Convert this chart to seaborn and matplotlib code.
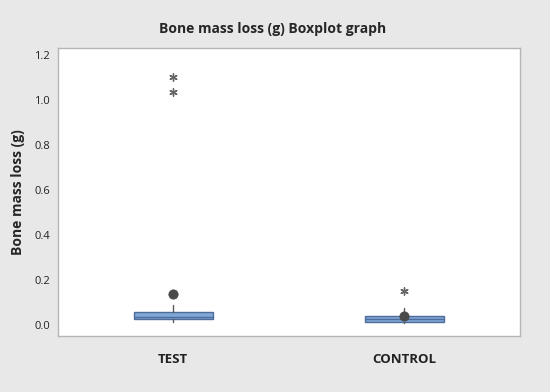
import numpy as np
import pandas as pd
from matplotlib import pyplot as plt
import seaborn as sns

# summary values
groups = ['TEST', 'CONTROL']
q1 = [0.027, 0.014]
median = [0.035, 0.025]
q3 = [0.058, 0.040]
whisk_lo = [0.013, 0.010]
whisk_hi = [0.089, 0.075]
means = [0.138, 0.040]
outlier_group = ['TEST', 'TEST', 'CONTROL']
outlier_value = [1.036, 1.10, 0.15]

sns.set_style('white')
plt.rcParams['font.family'] = ['Open Sans', 'DejaVu Sans']

fig = plt.figure(figsize=(5.5, 3.92), dpi=100, facecolor='#e8e8e8')
ax = fig.add_axes([0.105, 0.143, 0.84, 0.735])
ax.set_facecolor('white')

stats = []
for i, g in enumerate(groups):
    stats.append(dict(label=g, q1=q1[i], med=median[i], q3=q3[i],
                      whislo=whisk_lo[i], whishi=whisk_hi[i], fliers=[]))

edge = '#4d6c99'
ax.bxp(stats, positions=range(len(groups)), widths=0.34, patch_artist=True,
       showcaps=False, showfliers=False,
       boxprops=dict(facecolor='#7fa7d8', edgecolor=edge, linewidth=1),
       medianprops=dict(color=edge, linewidth=1),
       whiskerprops=dict(color='#5a5a5a', linewidth=1))

mean_df = pd.DataFrame({'group': groups, 'value': means})
sns.scatterplot(data=mean_df, x='group', y='value', ax=ax, color='#4a4a4a',
                s=45, edgecolor='#4a4a4a', zorder=5, legend=False)

out_df = pd.DataFrame({'group': outlier_group, 'value': outlier_value})
sns.scatterplot(data=out_df, x='group', y='value', ax=ax, marker=(6, 2, 0),
                color='#666666', s=28, linewidth=1, zorder=5, legend=False)

ax.set_xlim(-0.5, 1.5)
ax.set_ylim(-0.048, 1.231)
ax.set_yticks([0.0, 0.2, 0.4, 0.6, 0.8, 1.0, 1.2])
ax.set_yticklabels(['0.0', '0.2', '0.4', '0.6', '0.8', '1.0', '1.2'])
ax.set_xticks(range(len(groups)))
ax.set_xticklabels(groups, fontsize=9.5, fontweight='bold')
ax.tick_params(axis='y', labelsize=8, colors='#222222', length=2, width=0.6)
ax.tick_params(axis='x', length=2, width=0.6, pad=10, colors='#222222')
ax.tick_params(axis='both', color='#aaaaaa')
for s in ax.spines.values():
    s.set_color('#b5b5b5')
    s.set_linewidth(1)
ax.set_xlabel('')
ax.set_ylabel('Bone mass loss (g)', fontsize=10, fontweight='bold', labelpad=7)
fig.suptitle('Bone mass loss (g) Boxplot graph', fontsize=10, fontweight='bold',
             x=0.495, y=0.945)

fig.savefig('out.png', dpi=100, facecolor=fig.get_facecolor())
